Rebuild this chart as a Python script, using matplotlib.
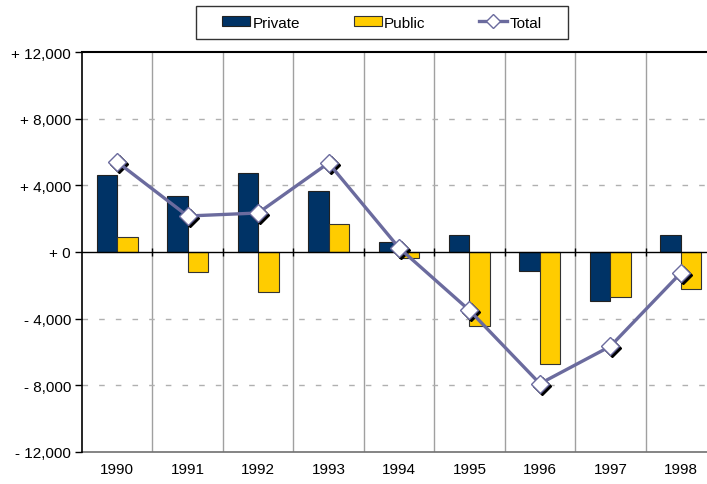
import matplotlib
matplotlib.use("Agg")
import matplotlib.pyplot as plt
import matplotlib.transforms as mtransforms
from matplotlib.patches import Rectangle
import numpy as np

years = ["1990", "1991", "1992", "1993", "1994", "1995", "1996", "1997", "1998"]
private = [4600, 3360, 4740, 3660, 600, 1000, -1160, -2960, 1000]
public = [900, -1200, -2400, 1680, -350, -4450, -6720, -2700, -2200]
total = [5400, 2160, 2340, 5340, 250, -3500, -7900, -5660, -1260]
yticks = [12000, 8000, 4000, 0, -4000, -8000, -12000]
ytick_labels = ["+ 12,000", "+ 8,000", "+ 4,000", "+ 0", "- 4,000", "- 8,000", "- 12,000"]

plt.rcParams['font.family'] = ['Liberation Sans', 'DejaVu Sans']

fig = plt.figure(figsize=(7.07, 4.85), dpi=100)
W, H = 707, 485
ax = fig.add_axes([82 / W, 32 / H, (716 - 82) / W, (453 - 53) / H])

x = np.arange(len(years))
bw = 0.29
navy = "#003366"
gold = "#FFCC00"
line_c = "#6B6B9E"

# grid
for b in x[:-1] + 0.5:
    ax.axvline(b, color="#A0A0A0", lw=1.0, zorder=0)
for yv in [8000, 4000, -4000, -8000]:
    ax.axhline(yv, color="#B0B0B0", lw=1.0, ls=(0, (4, 8)), zorder=0)
ax.axhline(12000, color="black", lw=1.5, zorder=1, clip_on=False)
ax.axhline(-12000, color="#707070", lw=1.2, zorder=1, clip_on=False)

h1 = ax.bar(x - bw / 2, private, bw, color=navy, edgecolor="#222222", lw=0.8, zorder=2, label="Private")
h2 = ax.bar(x + bw / 2, public, bw, color=gold, edgecolor="#333333", lw=0.8, zorder=2, label="Public")

ax.axhline(0, color="black", lw=1.0, zorder=3)
ax.vlines(x[:-1] + 0.5, -250, 250, color="black", lw=1.0, zorder=3)

# shadow markers
shadow_tr = mtransforms.offset_copy(ax.transData, fig=fig, x=2, y=-2, units='dots')
ax.plot(x, total, ls="none", marker="D", ms=9, mfc="black", mec="black", transform=shadow_tr, zorder=4)
ax.plot(x, total, color=line_c, lw=2.4, zorder=4.5)
ax.plot(x, total, ls="none", marker="D", ms=9, mfc="white", mec=line_c, mew=1.0, zorder=5)
h3, = ax.plot([], [], color=line_c, lw=2.4, marker="D", ms=7, mfc="white", mec=line_c, label="Total")

ax.set_xlim(-0.5, len(years) - 0.5)
ax.set_ylim(-12000, 12000)
ax.set_yticks(yticks)
ax.set_yticklabels(ytick_labels, fontsize=11)
ax.set_xticks(x)
ax.set_xticklabels(years, fontsize=11)
ax.tick_params(axis="x", length=0, pad=7)
ax.tick_params(axis="y", length=5, width=1, direction="out", pad=3)

for s in ["top", "right", "bottom"]:
    ax.spines[s].set_visible(False)
ax.spines["left"].set_linewidth(1.2)

# legend box
fig.patches.append(Rectangle((196 / W, 1 - 40 / H), (568 - 196) / W, 33 / H,
                             transform=fig.transFigure, fill=False,
                             edgecolor="#333333", lw=1.0))
leg = fig.legend([h1, h2, h3], ["Private", "Public", "Total"],
                 loc="center", bbox_to_anchor=((196 + 568) / 2 / W, 1 - 23.5 / H),
                 ncol=3, frameon=False, fontsize=11,
                 handlelength=1.85, handleheight=0.6, columnspacing=3.5, borderpad=0.5,
                 handletextpad=0.15, borderaxespad=0)

fig.savefig("out.png", dpi=100)
